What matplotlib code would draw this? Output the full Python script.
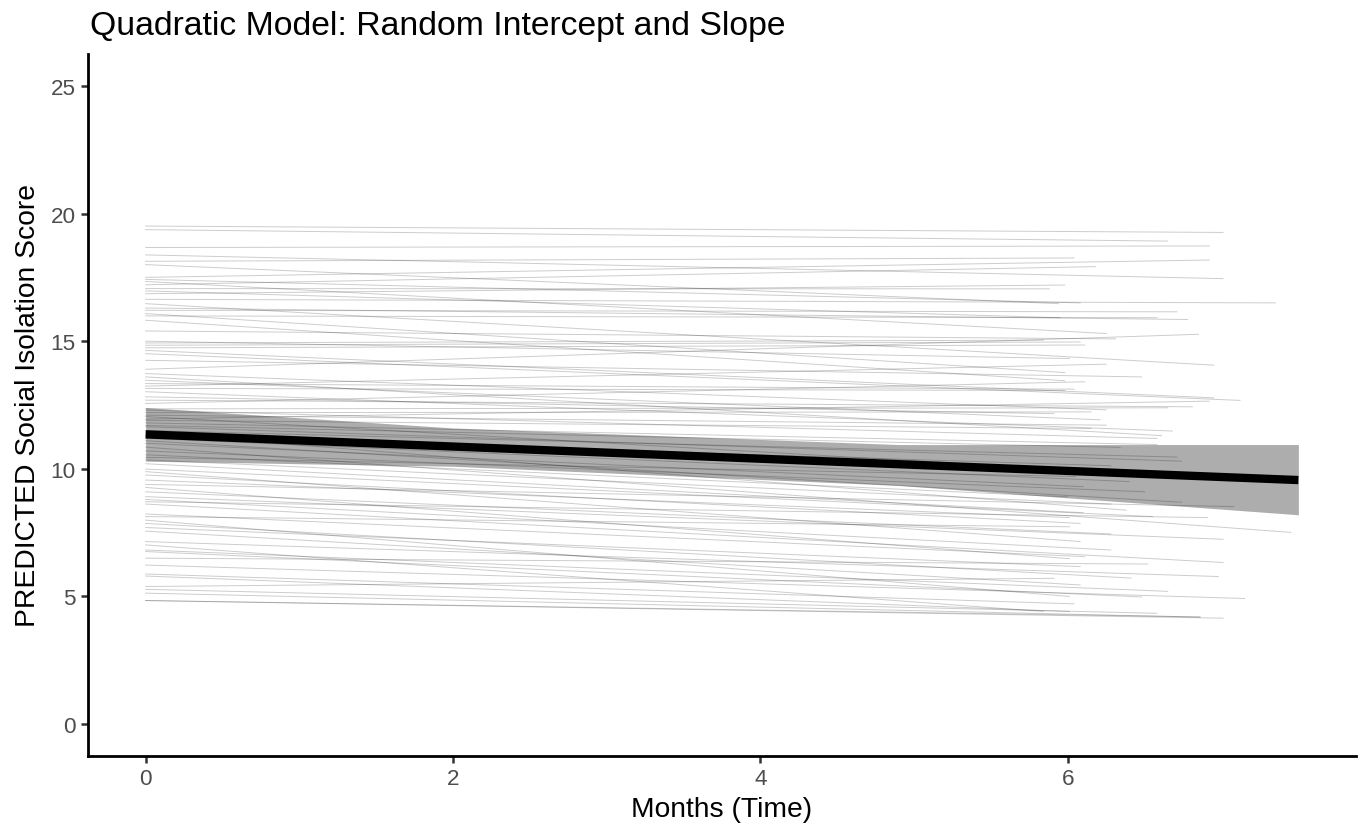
import matplotlib
matplotlib.use("Agg")
import matplotlib.pyplot as plt
import numpy as np

# predicted score for each person at month 0, at the end of their follow-up, and the end month
start_score = [
    19.51, 19.37, 18.67, 18.38, 18.13, 18.0, 17.5, 17.42, 17.34, 17.21,
    17.06, 16.97, 16.86, 16.64, 16.47, 16.3, 16.21, 16.08, 15.99, 15.82,
    15.40, 15.0, 14.93, 14.84, 14.74, 14.64, 14.51, 14.25, 13.9, 13.73,
    13.6, 13.47, 13.34, 13.24, 13.15, 13.02, 12.82, 12.69, 12.56, 12.35,
    12.3, 12.2, 12.1, 12.05, 11.95, 11.9, 11.8, 11.7, 11.65, 11.5,
    11.4, 11.3, 11.2, 11.1, 11.0, 10.85, 10.7, 10.55, 10.45, 10.35,
    10.2, 9.99, 9.89, 9.76, 9.56, 9.39, 9.27, 9.1, 8.91, 8.8,
    8.71, 8.62, 8.23, 8.13, 7.99, 7.86, 7.7, 7.56, 7.15, 7.02,
    6.82, 6.76, 6.5, 6.23, 5.88, 5.8, 5.39, 5.28, 5.13, 4.84, 4.84,
]
end_score = [
    19.26, 18.92, 18.73, 17.45, 18.26, 16.47, 18.18, 16.5, 15.3, 17.92,
    17.05, 15.92, 17.2, 16.5, 14.06, 15.85, 16.15, 13.77, 15.92, 13.45,
    15.09, 14.32, 15.04, 14.97, 14.85, 12.78, 12.68, 13.6, 15.27, 12.31,
    11.3, 11.92, 13.12, 14.1, 13.07, 11.48, 12.16, 12.43, 13.41, 12.39,
    11.19, 12.23, 11.71, 9.9, 12.65, 11.58, 10.95, 10.84, 10.3, 10.46,
    8.38, 10.12, 9.5, 8.69, 9.3, 7.51, 9.1, 8.9, 9.7, 8.62,
    8.28, 8.13, 7.15, 7.86, 8.09, 8.52, 6.48, 7.45, 7.24, 6.82,
    8.09, 6.33, 6.56, 7.73, 5.0, 5.72, 6.17, 5.45, 5.78, 4.41,
    5.2, 4.98, 6.27, 4.92, 4.71, 4.41, 5.71, 4.34, 4.19, 4.15, 4.2,
]
end_month = [
    7.01, 6.65, 6.92, 7.01, 6.04, 5.94, 6.92, 6.08, 6.25, 6.18,
    5.88, 5.95, 5.98, 7.35, 6.95, 6.78, 6.71, 5.98, 6.58, 5.98,
    6.31, 6.01, 5.84, 6.08, 6.11, 6.95, 7.12, 6.48, 6.85, 6.25,
    6.61, 6.21, 6.04, 6.25, 5.98, 6.68, 5.91, 6.81, 6.11, 6.65,
    6.58, 6.15, 6.25, 6.2, 6.92, 6.15, 6.58, 6.34, 6.74, 6.71,
    6.38, 6.28, 6.4, 6.74, 6.1, 7.45, 6.5, 6.0, 6.05, 6.28,
    6.1, 6.55, 6.08, 6.08, 6.01, 7.08, 6.01, 6.28, 7.01, 6.28,
    6.91, 7.01, 6.11, 6.01, 6.01, 6.41, 6.08, 6.08, 6.98, 5.84,
    6.65, 6.48, 6.52, 7.15, 6.04, 6.01, 5.91, 6.58, 6.86, 7.01, 6.86,
]

# fixed-effect prediction and its band
mean_months = [0, 7.5]
mean_score = [11.35, 9.56]
band_months = [0, 2, 4.9, 7.5]
band_low = [10.3, 10.1, 9.35, 8.2]
band_high = [12.4, 11.6, 10.95, 10.95]

plt.rcParams['font.family'] = ['Liberation Sans', 'DejaVu Sans']

fig = plt.figure(figsize=(13.64, 8.28), dpi=100)
ax = fig.add_axes([88 / 1364, 1 - 757 / 828, (1356 - 88) / 1364, (757 - 55) / 828])

ax.fill_between(band_months, band_low, band_high, color='#adadad', lw=0, zorder=1)

for v0, v1, t1 in zip(start_score, end_score, end_month):
    ax.plot([0, t1], [v0, v1], color='black', alpha=0.2, lw=0.7, zorder=2)

ax.plot(mean_months, mean_score, color='black', lw=6, solid_capstyle='butt', zorder=3)

ax.set_xlim(-0.375, 7.875)
ax.set_ylim(-1.25, 26.25)
ax.set_xticks([0, 2, 4, 6])
ax.set_yticks([0, 5, 10, 15, 20, 25])

for side in ['top', 'right']:
    ax.spines[side].set_visible(False)
for side in ['left', 'bottom']:
    ax.spines[side].set_linewidth(2.0)
    ax.spines[side].set_color('black')
ax.tick_params(axis='both', length=5, width=1.8, color='#333333',
               labelsize=16.2, labelcolor='#4d4d4d', pad=4)

fig.text(90 / 1364, 1 - 27 / 828, "Quadratic Model: Random Intercept and Slope",
         fontsize=24.3, ha='left', va='center')
fig.text(722 / 1364, 1 - 810 / 828, "Months (Time)", fontsize=20.3,
         ha='center', va='center')
fig.text(28 / 1364, 1 - 406 / 828, "PREDICTED Social Isolation Score", fontsize=20.3,
         ha='center', va='center', rotation=90)

fig.savefig('out.png', dpi=100)
